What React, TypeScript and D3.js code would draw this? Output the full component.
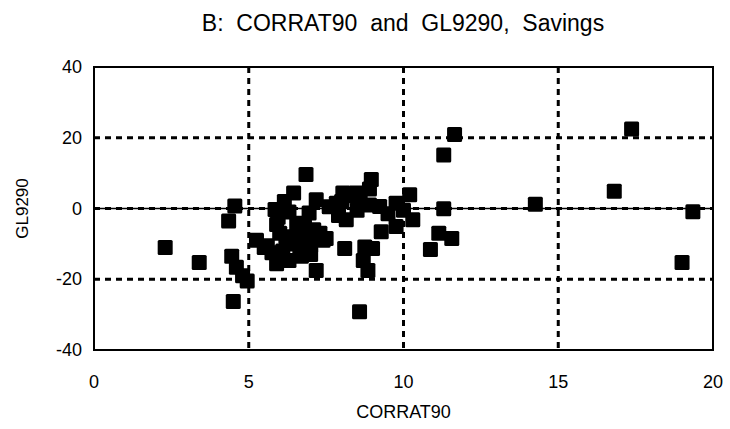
import * as d3 from "d3";
import { useEffect, useRef } from "react";

// CORRAT90 (x) and GL9290 (y)
const corrat90 = [
    2.3, 3.4, 4.5, 4.35, 4.55, 4.45, 4.6, 4.8, 4.95, 5.25,
    5.6, 5.75, 5.9, 5.85, 5.9, 6.0, 6.2, 6.3, 6.15, 6.45,
    6.55, 6.65, 6.6, 6.85, 6.95, 6.9, 7.0, 7.18, 7.18, 7.3,
    7.4, 7.5, 7.83, 7.9, 8.04, 8.15, 8.1, 8.3, 8.47, 8.5,
    8.58, 8.7, 8.75, 8.85, 8.96, 8.9, 9.0, 9.23, 9.28, 9.5,
    9.76, 9.76, 10.2, 10.3, 10.0, 10.87, 11.14, 11.56, 11.3, 11.3,
    11.65, 14.26, 16.81, 17.37, 19.35, 19.0,
    5.5, 6.1, 6.4, 6.8, 7.1, 5.95, 6.3, 6.7, 8.0, 8.6,
    8.9, 7.6, 6.5, 7.0,
];
const gl9290 = [
    -11.0, -15.3, -26.3, -3.5, 0.7, -13.5, -16.6, -19.0, -20.5, -9.0,
    -10.5, -12.5, -15.6, -0.3, -4.5, -7.0, -8.0, -14.7, 2.0, 4.4,
    -4.2, -11.8, -6.5, 9.6, -1.3, -9.0, -13.0, 2.5, -17.5, -7.0,
    -9.0, -8.5, 1.5, -2.0, 4.4, -3.2, -11.3, 3.5, 4.4, -0.5,
    -29.2, -14.7, -10.9, -17.5, 8.2, 5.5, -11.3, 0.6, -6.6, -1.5,
    1.5, -5.1, 3.9, -3.2, -0.5, -11.6, -7.0, -8.5, -0.1, 15.1,
    20.9, 1.2, 4.9, 22.5, -0.9, -15.3,
    -11.0, -12.0, -10.0, -5.0, -6.0, -2.5, -1.0, -13.5, 2.0, 2.5,
    1.0, 0.5, -8.5, -10.5,
];
const xTicks = [0, 5, 10, 15, 20];
const yTicks = [-40, -20, 0, 20, 40];
const xGrid = [5, 10, 15];
const yGrid = [-20, 20];

const W = 730, H = 429;
const FONT = "'Liberation Sans', Arial, Helvetica, sans-serif";

const App = () => {
    const ref = useRef<SVGSVGElement | null>(null);

    useEffect(() => {
        if (!ref.current) return;
        const svg = d3.select(ref.current);
        svg.selectAll("*").remove();

        const left = 94, right = 713, top = 67, bottom = 350;
        const x = d3.scaleLinear().domain([0, 20]).range([left, right]);
        const y = d3.scaleLinear().domain([-40, 40]).range([bottom, top]);

        svg.append("rect").attr("width", W).attr("height", H).attr("fill", "white");

        // grid
        const grid = svg.append("g").attr("stroke", "black").attr("stroke-width", 3)
            .attr("stroke-dasharray", "6,5");
        grid.selectAll(".vg").data(xGrid).join("line")
            .attr("x1", d => x(d)).attr("x2", d => x(d))
            .attr("y1", top).attr("y2", bottom);
        grid.selectAll(".hg").data(yGrid).join("line")
            .attr("x1", left).attr("x2", right)
            .attr("y1", d => y(d)).attr("y2", d => y(d));
        grid.append("line")
            .attr("x1", left).attr("x2", right)
            .attr("y1", y(0)).attr("y2", y(0));
        svg.append("line").attr("stroke", "black").attr("stroke-width", 1.5)
            .attr("x1", left).attr("x2", right)
            .attr("y1", y(0)).attr("y2", y(0));

        // points
        const pts = corrat90.map((v, i) => ({ cx: v, cy: gl9290[i] }));
        const s = 15;
        svg.append("g").selectAll("rect").data(pts).join("rect")
            .attr("x", d => x(d.cx) - s / 2)
            .attr("y", d => y(d.cy) - s / 2)
            .attr("width", s).attr("height", s)
            .attr("rx", 1.5)
            .attr("fill", "black");

        // frame
        svg.append("rect")
            .attr("x", left).attr("y", top)
            .attr("width", right - left).attr("height", bottom - top)
            .attr("fill", "none").attr("stroke", "black").attr("stroke-width", 2);

        // tick labels
        svg.append("g").selectAll("text").data(xTicks).join("text")
            .attr("x", d => x(d)).attr("y", 388)
            .attr("text-anchor", "middle")
            .style("font-family", FONT).style("font-size", "18px")
            .text(d => d);
        svg.append("g").selectAll("text").data(yTicks).join("text")
            .attr("x", 82).attr("y", d => y(d) + 6)
            .attr("text-anchor", "end")
            .style("font-family", FONT).style("font-size", "18px")
            .text(d => d);

        // axis titles
        svg.append("text")
            .attr("x", (left + right) / 2).attr("y", 418)
            .attr("text-anchor", "middle")
            .style("font-family", FONT).style("font-size", "18px")
            .text("CORRAT90");
        svg.append("text")
            .attr("transform", `translate(28,${(top + bottom) / 2}) rotate(-90)`)
            .attr("text-anchor", "middle")
            .style("font-family", FONT).style("font-size", "17px")
            .text("GL9290");

        // title
        svg.append("text")
            .attr("x", 403).attr("y", 31)
            .attr("text-anchor", "middle")
            .style("font-family", FONT).style("font-size", "23px")
            .style("white-space", "pre")
            .text("B:  CORRAT90  and  GL9290,  Savings");
    }, []);

    return <svg width={W} height={H} ref={ref} style={{ position: "absolute", left: 0, top: 0 }} />;
};

export default App;
